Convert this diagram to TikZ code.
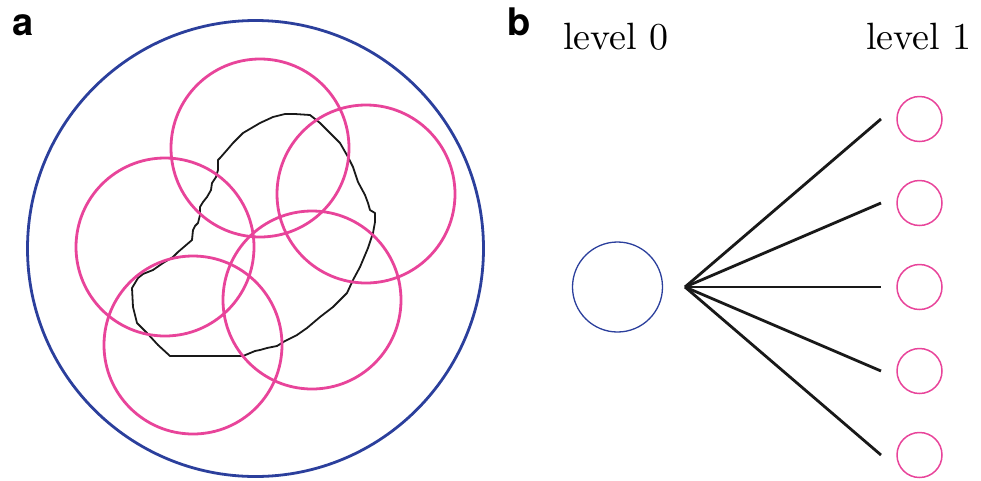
\documentclass[tikz,border=0pt]{standalone}
\usepackage{fontspec}
\newfontfamily\labfont{TeX Gyre Heros}
\newfontfamily\lmten{lmroman10-regular.otf}
\definecolor{ppink}{HTML}{E8449A}
\definecolor{pblue}{HTML}{2B3F9C}
\begin{document}
\begin{tikzpicture}[x=1pt,y=-1pt,
  bigpink/.style={circle,draw=ppink,line width=2.8pt,inner sep=0pt,minimum size=178pt},
  bigblue/.style={circle,draw=pblue,line width=2.8pt,inner sep=0pt,minimum size=456pt},
  smallpink/.style={circle,draw=ppink,line width=1.5pt,inner sep=0pt,minimum size=45pt},
  smallblue/.style={circle,draw=pblue,line width=1.3pt,inner sep=0pt,minimum size=90pt},
  spoke/.style={line width=2.8pt,black!90},
  blob/.style={line width=1.8pt,black!90,line join=round},
  panellab/.style={anchor=base west,inner sep=0pt,font=\labfont\bfseries\fontsize{38}{40}\selectfont},
  levellab/.style={anchor=base west,inner sep=0pt,font=\lmten\fontsize{38}{40}\selectfont}]
\useasboundingbox (0,0) rectangle (981,480);
% panel labels
\node[panellab] (la) at (12,35) {a};
\node[panellab] (lb) at (507,35) {b};
% panel a
\node[bigblue] (outer) at (255.5,248.5) {};
\draw[blob] (170,356) -- (243,356) -- (255,351) -- (260,350) -- (267,348) -- (277,346) -- (285,341)
 -- (297,335) -- (307,328) -- (320,317) -- (333,307) -- (347,293) -- (353,280) -- (360,267)
 -- (368,248) -- (373,233) -- (375,222) -- (375,213) -- (370,210) -- (368,203) -- (365,195)
 -- (358,182) -- (353,167) -- (348,157) -- (340,143) -- (330,133) -- (320,123) -- (310,115)
 -- (295,114) -- (285,114) -- (273,117) -- (260,123) -- (243,133) -- (233,143) -- (227,150)
 -- (220,158) -- (218,160) -- (218,170) -- (216,177) -- (212,183) -- (211,190) -- (207,197)
 -- (203,202) -- (200,207) -- (200,215) -- (198,223) -- (195,226) -- (193,230) -- (192,240)
 -- (185,246) -- (178,252) -- (173,257) -- (163,263) -- (153,270) -- (143,274) -- (138,278)
 -- (132,288) -- (133,307) -- (137,323) -- (147,333) -- (158,345) -- cycle;
\node[bigpink] (p1) at (260,148) {};
\node[bigpink] (p2) at (366,194) {};
\node[bigpink] (p3) at (165,247) {};
\node[bigpink] (p4) at (193,345) {};
\node[bigpink] (p5) at (312,300) {};
% panel b
\node[levellab] (l0) at (563,49) {level 0};
\node[levellab] (l1) at (866,49) {level 1};
\node[smallblue] (root) at (617.5,287) {};
\coordinate (hub) at (685,287);
\coordinate (e1) at (881,119);
\coordinate (e2) at (881,203);
\coordinate (e3) at (881,287);
\coordinate (e4) at (881,371);
\coordinate (e5) at (881,455);
\foreach \i in {1,...,5} \draw[spoke] (hub) -- (e\i);
\node[smallpink] (c1) at (919.5,119) {};
\node[smallpink] (c2) at (919.5,203) {};
\node[smallpink] (c3) at (919.5,287) {};
\node[smallpink] (c4) at (919.5,371) {};
\node[smallpink] (c5) at (919.5,455) {};
\end{tikzpicture}
\end{document}
